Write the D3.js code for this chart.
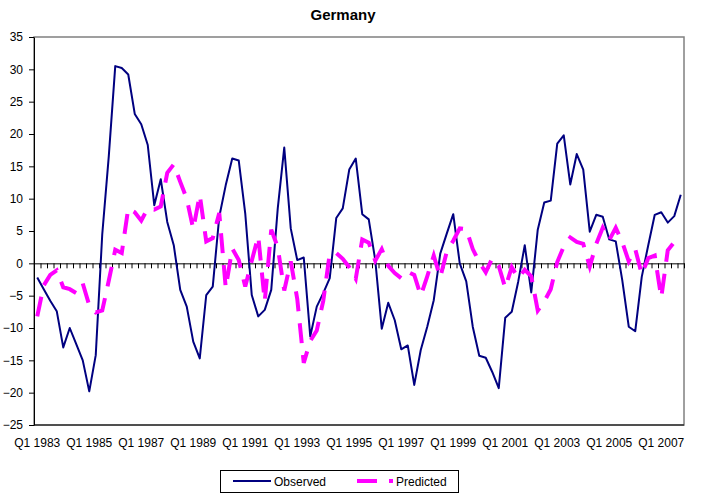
<!DOCTYPE html>
<html>
<head>
<meta charset="utf-8">
<script src="https://cdn.jsdelivr.net/npm/d3@7"></script>
<style>
  body { margin: 0; background: #fff; }
  svg { font-family: "Liberation Sans", Arial, sans-serif; }
</style>
</head>
<body>
<script>
// quarterly data, Q1 1983 .. Q4 2007
const startYear = 1983;
const nYears = 25;
const quarters = [];
for (let y = startYear; y < startYear + nYears; y++) {
  for (let q = 1; q <= 4; q++) quarters.push("Q" + q + " " + y);
}

const observed = [
  -2.2, -4.0, -5.8, -7.4, -13.0, -10.0, -12.5, -15.0, -19.8, -14.2,
  4.5, 16.5, 30.5, 30.2, 29.2, 23.1, 21.5, 18.3, 9.0, 13.0,
  6.4, 2.8, -4.1, -6.7, -12.1, -14.7, -4.9, -3.6, 7.2, 12.1,
  16.2, 15.9, 7.7, -4.9, -8.2, -7.2, -4.1, 8.5, 17.9, 5.4,
  0.5, 0.9, -11.3, -6.7, -4.6, -2.3, 7.0, 8.5, 14.5, 16.2,
  7.6, 6.8, 0.5, -10.1, -6.1, -8.8, -13.3, -12.7, -18.8, -13.4,
  -9.8, -5.7, 1.5, 4.6, 7.6, 0.0, -2.8, -9.8, -14.3, -14.6,
  -16.8, -19.3, -8.4, -7.5, -2.8, 2.8, -4.5, 5.2, 9.4, 9.7,
  18.5, 19.8, 12.2, 16.9, 14.5, 4.9, 7.5, 7.2, 3.7, 3.4,
  -2.6, -9.8, -10.5, -2.1, 2.8, 7.5, 7.9, 6.3, 7.3, 10.6
];

const predicted = [
  -8.2, -3.4, -1.8, -1.1, -3.7, -4.0, -4.6, -3.1, -6.5, -7.6,
  -7.3, -2.7, 2.1, 1.6, 8.5, 7.9, 6.6, 8.5, 8.3, 8.8,
  14.0, 15.3, 12.6, 10.0, 5.3, 10.6, 3.4, 3.9, 7.8, -3.8,
  2.3, 0.5, -3.6, 0.4, 4.2, -5.9, 5.2, 2.5, -4.2, 0.3,
  -5.5, -15.4, -12.0, -10.4, -5.8, 1.5, 1.6, 0.7, -0.6, -2.4,
  3.7, 3.2, 0.4, 2.2, -0.4, -1.5, -2.3, -1.3, -1.8, -5.0,
  -2.0, 1.2, -2.2, 1.8, 3.5, 5.4, 5.3, 2.2, 0.2, -1.4,
  0.8, -0.4, -3.8, -0.6, -2.3, -1.0, -2.0, -7.3, -5.9, -4.0,
  0.2, 2.6, 4.0, 3.3, 3.0, -0.5, 3.0, 5.5, 3.6, 5.5,
  3.3, 0.3, 2.2, -1.7, 0.8, 1.2, -5.3, 2.0, 3.3, 2.3
];

const xTickLabels = ["Q1 1983", "Q1 1985", "Q1 1987", "Q1 1989", "Q1 1991", "Q1 1993", "Q1 1995",
                     "Q1 1997", "Q1 1999", "Q1 2001", "Q1 2003", "Q1 2005", "Q1 2007"];
const yTicks = [-25, -20, -15, -10, -5, 0, 5, 10, 15, 20, 25, 30, 35];

// svg size and plot area
const w = 711;
const h = 493;
const plotL = 34, plotR = 684, plotT = 37, plotB = 425;

const colorObs = "#000080";
const colorPred = "#ff00ff";
const dash = "20,12";

const svg = d3.select("body")
  .append("svg")
  .attr("width", w)
  .attr("height", h);

svg.append("rect").attr("width", w).attr("height", h).attr("fill", "#fff");

// scales
const xScale = d3.scaleBand()
  .domain(quarters)
  .range([plotL, plotR])
  .padding(0);
const xEdge = d3.scaleLinear()
  .domain([0, quarters.length])
  .range([plotL, plotR]);
const yScale = d3.scaleLinear()
  .domain([-25, 35])
  .range([plotB, plotT]);

const cx = (i) => xScale(quarters[i]) + xScale.bandwidth() / 2;

// plot area border
svg.append("rect")
  .attr("x", plotL)
  .attr("y", plotT)
  .attr("width", plotR - plotL)
  .attr("height", plotB - plotT)
  .attr("fill", "none")
  .attr("stroke", "#808080")
  .attr("stroke-width", 1.5);
svg.append("line")
  .attr("x1", plotL).attr("x2", plotR)
  .attr("y1", plotB).attr("y2", plotB)
  .attr("stroke", "#000");

// y axis
const yAxis = d3.axisLeft(yScale)
  .tickValues(yTicks)
  .tickSize(5)
  .tickPadding(6)
  .tickSizeOuter(0);
const gy = svg.append("g")
  .attr("transform", `translate(${plotL},0)`)
  .call(yAxis);
gy.selectAll("text").style("font-size", "12px").attr("fill", "#000");
gy.selectAll("line, path").attr("stroke", "#000");

// x axis at zero, tick marks between quarters
const xAxis = d3.axisBottom(xEdge)
  .tickValues(d3.range(0, quarters.length + 1))
  .tickSize(5)
  .tickSizeOuter(0)
  .tickFormat("");
const gx = svg.append("g")
  .attr("transform", `translate(0,${yScale(0)})`)
  .call(xAxis);
gx.selectAll("line, path").attr("stroke", "#000");

// category labels under the plot
const xLabels = d3.axisBottom(xScale)
  .tickValues(xTickLabels)
  .tickSize(0)
  .tickPadding(13);
const gl = svg.append("g")
  .attr("transform", `translate(0,${plotB})`)
  .call(xLabels);
gl.select(".domain").remove();
gl.selectAll("text").style("font-size", "12px").attr("fill", "#000");

// lines
const line = d3.line()
  .x((d, i) => cx(i))
  .y((d) => yScale(d));

svg.append("path")
  .datum(observed)
  .attr("d", line)
  .attr("fill", "none")
  .attr("stroke", colorObs)
  .attr("stroke-width", 2)
  .attr("stroke-linejoin", "round");

svg.append("path")
  .datum(predicted)
  .attr("d", line)
  .attr("fill", "none")
  .attr("stroke", colorPred)
  .attr("stroke-width", 4)
  .attr("stroke-dasharray", dash);

// title
svg.append("text")
  .attr("x", 343)
  .attr("y", 20)
  .attr("text-anchor", "middle")
  .style("font-size", "15px")
  .style("font-weight", "bold")
  .text("Germany");

// legend
const lg = svg.append("g");
lg.append("rect")
  .attr("x", 220.5).attr("y", 470.5)
  .attr("width", 238).attr("height", 22)
  .attr("fill", "#fff")
  .attr("stroke", "#000");
lg.append("line")
  .attr("x1", 233).attr("x2", 271)
  .attr("y1", 481).attr("y2", 481)
  .attr("stroke", colorObs).attr("stroke-width", 2);
lg.append("text")
  .attr("x", 274).attr("y", 485.5)
  .style("font-size", "12px")
  .text("Observed");
lg.append("line")
  .attr("x1", 357).attr("x2", 393)
  .attr("y1", 481).attr("y2", 481)
  .attr("stroke", colorPred).attr("stroke-width", 4)
  .attr("stroke-dasharray", dash);
lg.append("text")
  .attr("x", 396).attr("y", 485.5)
  .style("font-size", "12px")
  .text("Predicted");
</script>
</body>
</html>
